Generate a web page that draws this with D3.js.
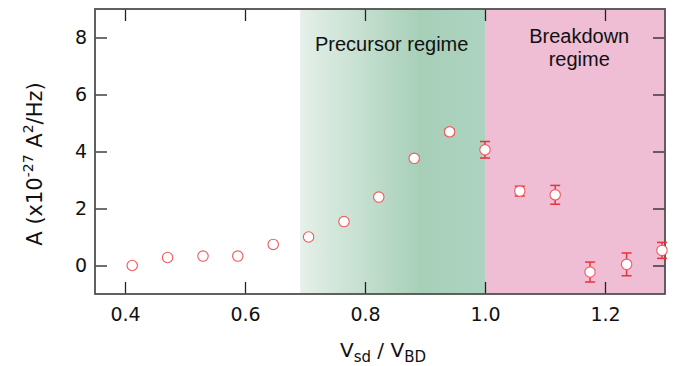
<!DOCTYPE html>
<html>
<head>
<meta charset="utf-8">
<script src="https://cdn.jsdelivr.net/npm/d3@7"></script>
<style>
  body { margin: 0; background: #fff; }
  .tick-label { font-family: "DejaVu Sans", sans-serif; font-size: 19px; fill: #111; }
  .axis-title { font-family: "DejaVu Sans", sans-serif; font-size: 20px; fill: #111; }
  .region-text { font-family: "Liberation Sans", Arial, sans-serif; font-size: 20px; fill: #111; }
</style>
</head>
<body>
<div class="chart"></div>
<script>
// noise amplitude vs normalised bias

var svgWidth = 689;
var svgHeight = 366;

var margin = { top: 9, right: 24, bottom: 72, left: 95 };
var width = svgWidth - margin.left - margin.right;
var height = svgHeight - margin.top - margin.bottom;

// data
var vRatio = [0.412, 0.471, 0.530, 0.588, 0.647, 0.706, 0.765, 0.823, 0.882, 0.941, 1.000, 1.058, 1.117, 1.175, 1.236, 1.295];
var amp    = [0.00, 0.28, 0.33, 0.33, 0.74, 1.00, 1.54, 2.40, 3.76, 4.69, 4.06, 2.61, 2.48, -0.23, 0.04, 0.53];
var ampErr = [0.02, 0.02, 0.02, 0.02, 0.03, 0.03, 0.04, 0.06, 0.08, 0.10, 0.29, 0.17, 0.33, 0.35, 0.40, 0.28];

var xTicks = [0.4, 0.6, 0.8, 1.0, 1.2];
var yTicks = [0, 2, 4, 6, 8];

// regime boundaries
var precursorStart = 0.692;
var breakdownStart = 1.0;

var svg = d3.select(".chart")
  .append("svg")
  .attr("width", svgWidth)
  .attr("height", svgHeight);

var chartGroup = svg.append("g")
  .attr("transform", `translate(${margin.left}, ${margin.top})`);

var x = d3.scaleLinear().domain([0.35, 1.30]).range([0, width]);
var y = d3.scaleLinear().domain([-1, 9]).range([height, 0]);

// background regions
var defs = svg.append("defs");
var grad = defs.append("linearGradient")
  .attr("id", "greenGrad")
  .attr("x1", "0%").attr("x2", "100%")
  .attr("y1", "0%").attr("y2", "0%");
grad.append("stop").attr("offset", "0%").attr("stop-color", "#e5f0e9");
grad.append("stop").attr("offset", "65%").attr("stop-color", "#a7cfb8");
grad.append("stop").attr("offset", "100%").attr("stop-color", "#abd3c0");

chartGroup.append("rect")
  .attr("x", x(precursorStart))
  .attr("y", 0)
  .attr("width", x(breakdownStart) - x(precursorStart))
  .attr("height", height)
  .attr("fill", "url(#greenGrad)");

chartGroup.append("rect")
  .attr("x", x(breakdownStart))
  .attr("y", 0)
  .attr("width", width - x(breakdownStart))
  .attr("height", height)
  .attr("fill", "#efbdd4");

// region labels
chartGroup.append("text")
  .attr("class", "region-text")
  .attr("x", x(0.8445))
  .attr("y", 42)
  .attr("text-anchor", "middle")
  .text("Precursor regime");

chartGroup.append("text")
  .attr("class", "region-text")
  .attr("x", x(1.157))
  .attr("y", 34)
  .attr("text-anchor", "middle")
  .text("Breakdown");

chartGroup.append("text")
  .attr("class", "region-text")
  .attr("x", x(1.157))
  .attr("y", 57)
  .attr("text-anchor", "middle")
  .text("regime");

// axes with inward ticks on all four sides
var tickLen = 12;
var bottomAxis = d3.axisBottom(x).tickValues(xTicks).tickSize(-tickLen).tickFormat(d3.format(".1f")).tickPadding(14);
var topAxis = d3.axisTop(x).tickValues(xTicks).tickSize(-tickLen).tickFormat("");
var leftAxis = d3.axisLeft(y).tickValues(yTicks).tickSize(-tickLen).tickFormat(d3.format("d")).tickPadding(8);
var rightAxis = d3.axisRight(y).tickValues(yTicks).tickSize(-tickLen).tickFormat("");

function styleAxis(g) {
  g.select(".domain").remove();
  g.selectAll(".tick line").attr("stroke", "#222").attr("stroke-width", 1.3);
  g.selectAll(".tick text").attr("class", "tick-label").attr("font-family", null).attr("font-size", null);
}

chartGroup.append("g").attr("transform", `translate(0, ${height})`).call(bottomAxis).call(styleAxis);
chartGroup.append("g").call(topAxis).call(styleAxis);
chartGroup.append("g").call(leftAxis).call(styleAxis);
chartGroup.append("g").attr("transform", `translate(${width}, 0)`).call(rightAxis).call(styleAxis);

// frame
chartGroup.append("rect")
  .attr("x", 0).attr("y", 0)
  .attr("width", width).attr("height", height)
  .attr("fill", "none")
  .attr("stroke", "#505050")
  .attr("stroke-width", 1.8);

// data
var data = vRatio.map((v, i) => ({ v: v, a: amp[i], e: ampErr[i] }));

var errGroup = chartGroup.append("g")
  .attr("stroke", "#e8343c")
  .attr("stroke-width", 1.5);

var capW = 5;
data.forEach(function(d) {
  var cx = x(d.v);
  errGroup.append("line")
    .attr("x1", cx).attr("x2", cx)
    .attr("y1", y(d.a + d.e)).attr("y2", y(d.a - d.e));
  errGroup.append("line")
    .attr("x1", cx - capW).attr("x2", cx + capW)
    .attr("y1", y(d.a + d.e)).attr("y2", y(d.a + d.e));
  errGroup.append("line")
    .attr("x1", cx - capW).attr("x2", cx + capW)
    .attr("y1", y(d.a - d.e)).attr("y2", y(d.a - d.e));
});

chartGroup.selectAll("circle.pt")
  .data(data)
  .enter()
  .append("circle")
  .attr("class", "pt")
  .attr("cx", d => x(d.v))
  .attr("cy", d => y(d.a))
  .attr("r", 5.2)
  .attr("fill", "#fff")
  .attr("stroke", "#f05a5f")
  .attr("stroke-width", 1.1);

// axis titles
svg.append("text")
  .attr("class", "axis-title")
  .attr("transform", `translate(42, 164) rotate(-90)`)
  .attr("text-anchor", "middle")
  .attr("font-size", 21)
  .style("font-size", "21px")
  .html('A (x10<tspan dy="-9" font-size="14">-27</tspan><tspan dy="9"> A</tspan><tspan dy="-9" font-size="14">2</tspan><tspan dy="9">/Hz)</tspan>');

svg.append("text")
  .attr("class", "axis-title")
  .attr("x", 383)
  .attr("y", 357)
  .attr("text-anchor", "middle")
  .html('V<tspan dy="5" font-size="15">sd</tspan><tspan dy="-5"> / V</tspan><tspan dy="5" font-size="15">BD</tspan>');
</script>
</body>
</html>
